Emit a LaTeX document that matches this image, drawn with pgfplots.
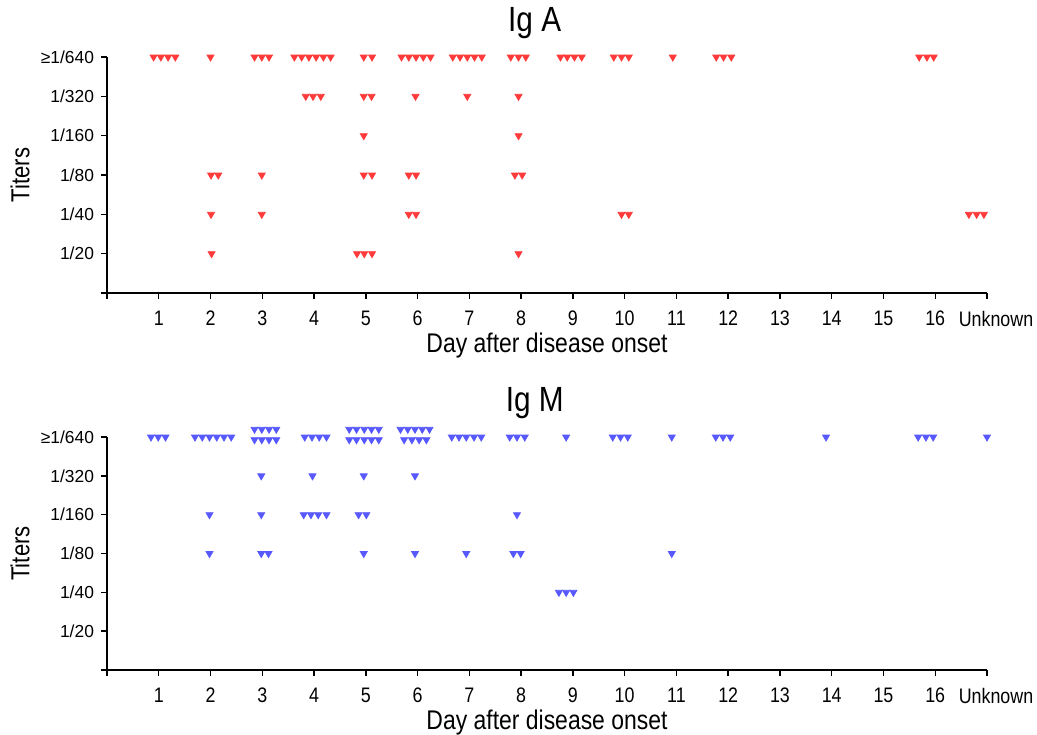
\documentclass[border=0pt]{standalone}
\usepackage{pgfplots}
\pgfplotsset{compat=1.18}
\usepackage{fontspec}
\setmainfont{Liberation Sans}
\newfontfamily\condfont[FakeStretch=0.85]{Liberation Sans}

\definecolor{iga}{RGB}{255,58,58}
\definecolor{igm}{RGB}{88,88,255}

\pgfplotsset{
  titerpanel/.style={
    scale only axis, width=440pt,
    xmin=0, xmax=17, ymin=0, ymax=6,
    axis x line=bottom, axis y line=left,
    axis line style={-, line width=1pt},
    clip=false,
    tick align=outside, major tick length=3pt,
    tick style={line width=0.7pt, black},
    xtick={0,...,17},
    xticklabels={{},1,2,3,4,5,6,7,8,9,10,11,12,13,14,15,16,\hspace*{9pt}Unknown},
    ytick={0,...,6},
    yticklabels={{},1/20,1/40,1/80,1/160,1/320,≥1/640},
    xticklabel style={font=\condfont\fontsize{10.5}{12}\selectfont, yshift=-2.5pt},
    yticklabel style={font=\fontsize{8.7}{10}\selectfont},
    xlabel={Day after disease onset}, ylabel={Titers},
    every axis x label/.style={at={(axis description cs:0.5,0)}, anchor=center,
      yshift=-26.5pt, font=\condfont\fontsize{13.5}{15}\selectfont},
    every axis y label/.style={at={(axis description cs:0,0.5)}, rotate=90,
      anchor=center, yshift=43.5pt, font=\condfont\fontsize{13}{15}\selectfont},
    title style={at={(axis description cs:0.486,1)}, anchor=center,
      yshift=11pt, font=\condfont\fontsize{17.5}{19}\selectfont},
  },
  titermarks/.style={only marks, mark=triangle*, mark size=2pt,
    mark options={rotate=180}},
}

\begin{document}
\begin{tikzpicture}
\path[use as bounding box] (-53.5pt,-32pt) rectangle (465pt,335pt);

% Ig A
\begin{axis}[titerpanel, at={(0,188.5pt)}, height=118pt, title={Ig A}]
\addplot[titermarks, color=iga] coordinates {
  (0.90,6) (1.04,6) (1.18,6) (1.32,6) (2.00,6)
  (2.85,6) (2.99,6) (3.13,6)
  (3.62,6) (3.76,6) (3.90,6) (4.04,6) (4.18,6) (4.32,6)
  (4.96,6) (5.12,6)
  (5.69,6) (5.83,6) (5.97,6) (6.11,6) (6.25,6)
  (6.68,6) (6.82,6) (6.96,6) (7.10,6) (7.24,6)
  (7.80,6) (7.95,6) (8.09,6)
  (8.76,6) (8.89,6) (9.03,6) (9.17,6)
  (9.79,6) (9.94,6) (10.08,6) (10.93,6)
  (11.77,6) (11.91,6) (12.06,6)
  (15.69,6) (15.84,6) (15.97,6)
  (3.84,5) (3.98,5) (4.13,5) (4.96,5) (5.11,5) (5.96,5) (6.96,5) (7.95,5)
  (4.96,4) (7.95,4)
  (2.01,3) (2.15,3) (2.99,3) (4.96,3) (5.12,3) (5.83,3) (5.97,3) (7.88,3) (8.02,3)
  (2.01,2) (2.99,2) (5.83,2) (5.97,2) (9.94,2) (10.08,2)
  (16.65,2) (16.80,2) (16.94,2)
  (2.02,1) (4.83,1) (4.97,1) (5.12,1) (7.95,1)
};
\end{axis}

% Ig M
\begin{axis}[titerpanel, at={(0,0)}, height=116.5pt, title={Ig M}]
\addplot[titermarks, color=igm] coordinates {
  (0.85,6) (0.99,6) (1.13,6)
  (1.70,6) (1.84,6) (1.98,6) (2.12,6) (2.26,6) (2.40,6)
  (2.85,6.2) (2.99,6.2) (3.13,6.2) (3.27,6.2)
  (2.85,5.93) (2.99,5.93) (3.13,5.93) (3.27,5.93)
  (3.82,6) (3.96,6) (4.10,6) (4.24,6)
  (4.68,6.2) (4.82,6.2) (4.97,6.2) (5.11,6.2) (5.25,6.2)
  (4.68,5.93) (4.82,5.93) (4.97,5.93) (5.11,5.93) (5.25,5.93)
  (5.67,6.2) (5.81,6.2) (5.95,6.2) (6.09,6.2) (6.23,6.2)
  (5.74,5.93) (5.89,5.93) (6.03,5.93) (6.17,5.93)
  (6.66,6) (6.80,6) (6.94,6) (7.09,6) (7.23,6)
  (7.78,6) (7.92,6) (8.07,6) (8.87,6)
  (9.77,6) (9.92,6) (10.06,6) (10.91,6)
  (11.76,6) (11.90,6) (12.04,6) (13.89,6)
  (15.67,6) (15.82,6) (15.96,6) (17.00,6)
  (2.98,5) (3.97,5) (4.96,5) (5.95,5)
  (1.98,4) (2.98,4) (3.80,4) (3.94,4) (4.08,4) (4.24,4) (4.86,4) (5.01,4) (7.92,4)
  (1.98,3) (2.98,3) (3.12,3) (4.96,3) (5.95,3) (6.94,3) (7.85,3) (7.99,3) (10.91,3)
  (8.73,2) (8.87,2) (9.01,2)
};
\end{axis}
\end{tikzpicture}
\end{document}
